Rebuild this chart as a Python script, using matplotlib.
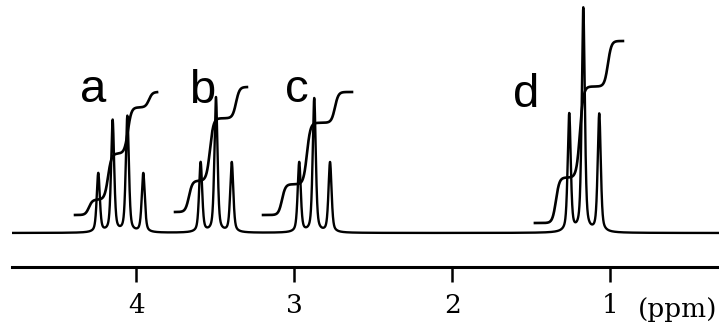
import numpy as np
import matplotlib
matplotlib.use("Agg")
from matplotlib import pyplot as plt

# multiplets: line positions (ppm) and line heights
groups = ["a", "b", "c", "d"]
peak_ppm = {"a": [4.242, 4.151, 4.058, 3.957],
            "b": [3.594, 3.497, 3.397],
            "c": [2.970, 2.875, 2.775],
            "d": [1.261, 1.172, 1.071]}
peak_height = {"a": [59, 112, 116, 59],
               "b": [70, 135, 70],
               "c": [70, 134, 70],
               "d": [118, 224, 118]}

# integral traces: line ratios, step positions, range, offset and total rise
int_ratio = {"a": [1, 3, 3, 1], "b": [1, 2, 1], "c": [1, 2, 1], "d": [1, 2, 1]}
int_steps = {"a": [4.301, 4.180, 4.054, 3.921],
             "b": [3.668, 3.535, 3.370],
             "c": [3.079, 2.921, 2.744],
             "d": [1.345, 1.193, 1.016]}
int_range = {"a": (4.389, 3.870), "b": (3.756, 3.301),
             "c": (3.199, 2.636), "d": (1.478, 0.921)}
int_offset = {"a": 18, "b": 21, "c": 18, "d": 10}
int_total = {"a": 123, "b": 125, "c": 123, "d": 182}

# label positions (ppm, height)
label_pos = {"a": (4.275, 131), "b": (3.585, 130), "c": (2.984, 131), "d": (1.535, 126)}

tick_ppm = [4, 3, 2, 1]
tick_labels = ["4", "3", "2", "1"]

fwhm = 0.023    # line width (ppm), pseudo-voigt
eta = 0.5
step_w = 0.022  # integral step width (ppm)

fig = plt.figure(figsize=(7.19, 3.27), dpi=100)
ax = fig.add_axes([12 / 719, 60 / 327, 707 / 719, 267 / 327])

x = np.linspace(4.8, 0.3, 30000)
y = np.zeros_like(x)
sig = fwhm / 2.3548
for g in groups:
    for p, h in zip(peak_ppm[g], peak_height[g]):
        lor = 1 / (1 + ((x - p) / (fwhm / 2)) ** 2)
        gau = np.exp(-0.5 * ((x - p) / sig) ** 2)
        y += h * (eta * lor + (1 - eta) * gau)
ax.plot(x, y, color="black", lw=1.7, solid_joinstyle="round")

for g in groups:
    lo, hi = int_range[g]
    xi = np.linspace(lo, hi, 400)
    w = np.array(int_ratio[g], dtype=float)
    w = w / w.sum()
    yi = np.zeros_like(xi)
    for s, wi in zip(int_steps[g], w):
        yi += wi * 0.5 * (1 + np.tanh((s - xi) / step_w))
    ax.plot(xi, int_offset[g] + int_total[g] * yi, color="black", lw=1.9)
    lx, ly = label_pos[g]
    ax.text(lx, ly, g, fontsize=34, family="Liberation Sans",
            ha="center", va="baseline")

ax.set_xlim(4.788, 0.313)
ax.set_ylim(-34, 233)
for side in ["top", "left", "right"]:
    ax.spines[side].set_visible(False)
ax.spines["bottom"].set_linewidth(2.2)
ax.set_yticks([])
ax.set_xticks(tick_ppm)
ax.set_xticklabels(tick_labels, family="DejaVu Serif", fontsize=19)
ax.tick_params(axis="x", direction="out", length=11, width=1.8, pad=8)
fig.text(678 / 719, 1 - 309 / 327, "(ppm)", family="DejaVu Serif",
         fontsize=19, ha="center", va="center")

fig.savefig("out.png", dpi=100)
